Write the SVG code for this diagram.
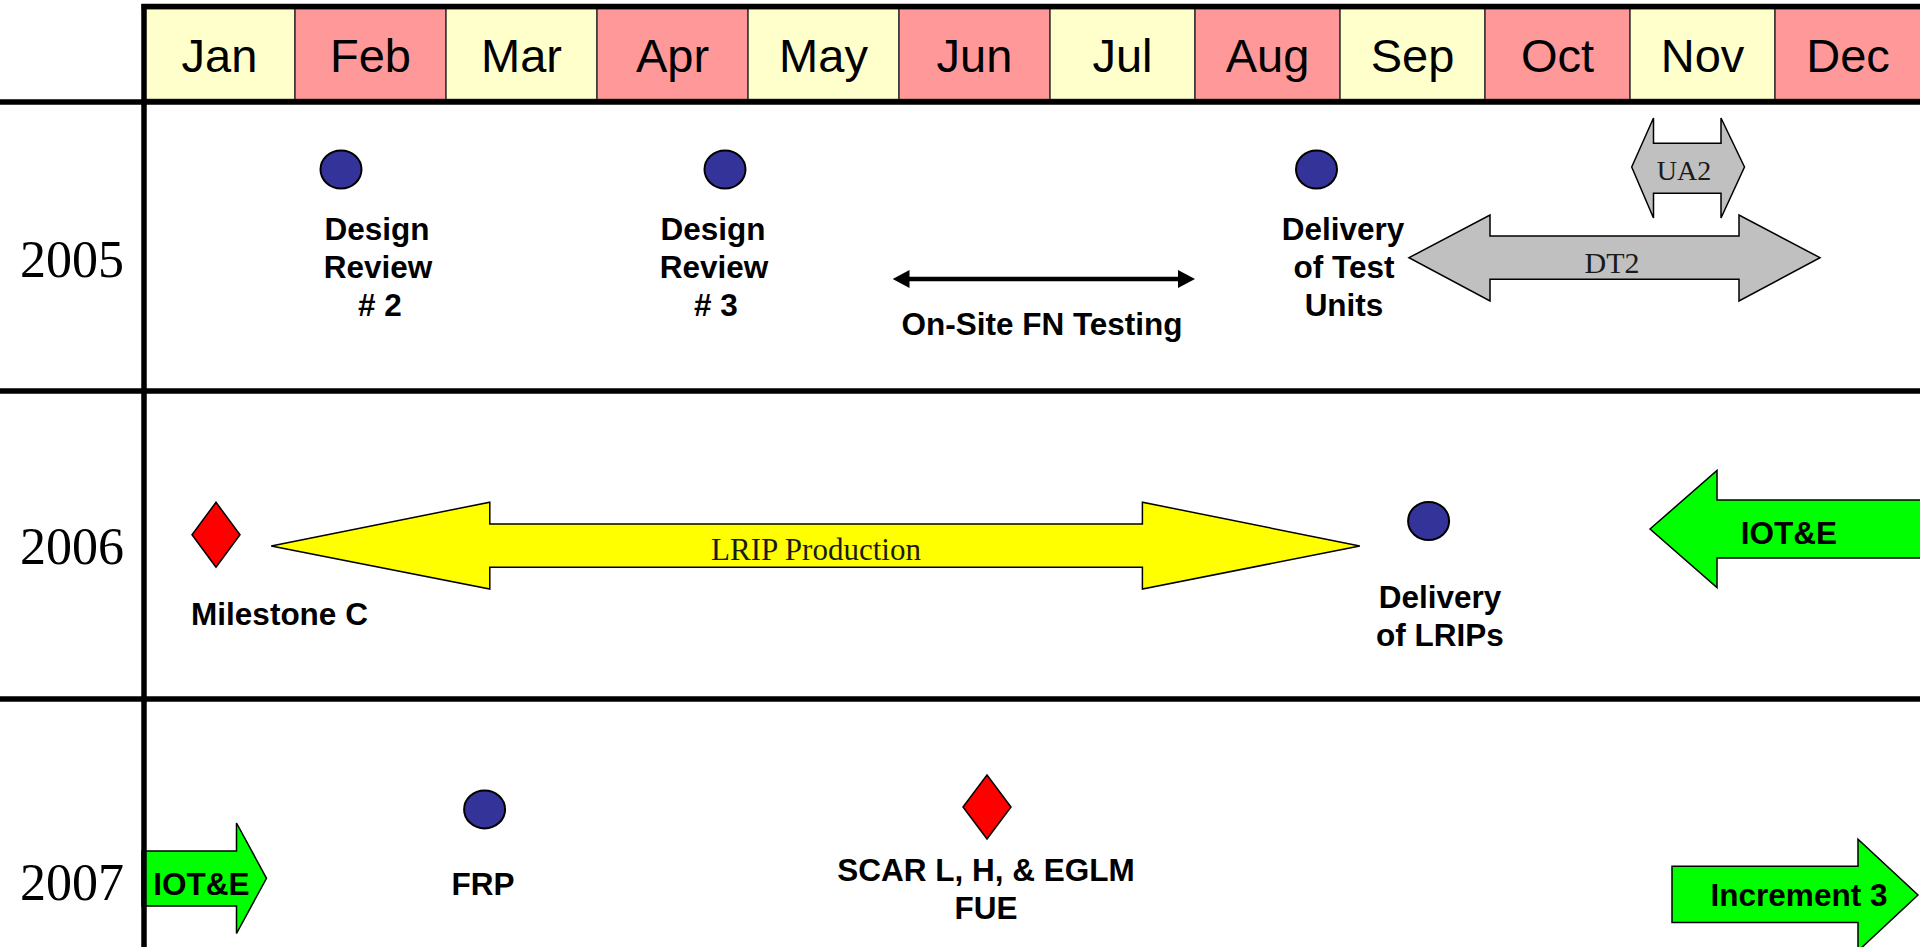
<svg xmlns="http://www.w3.org/2000/svg" width="1920" height="947" viewBox="0 0 1920 947">
<style>
.mon{font-family:"Liberation Sans",Arial,sans-serif;font-size:47px;fill:#000;text-anchor:middle}
.yr{font-family:"Liberation Serif","Times New Roman",serif;font-size:52px;fill:#000;text-anchor:middle}
.lbl{font-family:"Liberation Sans",Arial,sans-serif;font-size:31.5px;font-weight:bold;fill:#000;text-anchor:middle}
.tms{font-family:"Liberation Serif","Times New Roman",serif;fill:#1a1a1a;text-anchor:middle}
.cy{fill:#FFFFCC;stroke:#333;stroke-width:1.5}
.cp{fill:#FF9999;stroke:#333;stroke-width:1.5}
.dot{fill:#333399;stroke:#000;stroke-width:2}
.dia{fill:#FF0000;stroke:#000;stroke-width:1.5}
.grid{stroke:#000;stroke-width:5.5;fill:none}
.grey{fill:#C0C0C0;stroke:#000;stroke-width:1.5}
.yel{fill:#FFFF00;stroke:#000;stroke-width:1.5}
.grn{fill:#00FF00;stroke:#000;stroke-width:1.5}
</style>
<rect x="0" y="0" width="1920" height="947" fill="#fff"/>
<g id="header">
<rect class="cy" x="144" y="8.5" width="151" height="91"/>
<rect class="cp" x="295" y="8.5" width="151" height="91"/>
<rect class="cy" x="446" y="8.5" width="151" height="91"/>
<rect class="cp" x="597" y="8.5" width="151" height="91"/>
<rect class="cy" x="748" y="8.5" width="151" height="91"/>
<rect class="cp" x="899" y="8.5" width="151" height="91"/>
<rect class="cy" x="1050" y="8.5" width="145" height="91"/>
<rect class="cp" x="1195" y="8.5" width="145" height="91"/>
<rect class="cy" x="1340" y="8.5" width="145" height="91"/>
<rect class="cp" x="1485" y="8.5" width="145" height="91"/>
<rect class="cy" x="1630" y="8.5" width="145" height="91"/>
<rect class="cp" x="1775" y="8.5" width="147" height="91"/>
<text class="mon" x="219.5" y="72">Jan</text>
<text class="mon" x="370.5" y="72">Feb</text>
<text class="mon" x="521.5" y="72">Mar</text>
<text class="mon" x="672.5" y="72">Apr</text>
<text class="mon" x="823.5" y="72">May</text>
<text class="mon" x="974.5" y="72">Jun</text>
<text class="mon" x="1122.5" y="72">Jul</text>
<text class="mon" x="1267.5" y="72">Aug</text>
<text class="mon" x="1412.5" y="72">Sep</text>
<text class="mon" x="1557.5" y="72">Oct</text>
<text class="mon" x="1702.5" y="72">Nov</text>
<text class="mon" x="1848" y="72">Dec</text>
</g>
<g id="years">
<text class="yr" x="72" y="277">2005</text>
<text class="yr" x="72" y="564">2006</text>
<text class="yr" x="72" y="900">2007</text>
</g>
<g id="dr2"><ellipse class="dot" cx="341" cy="169.5" rx="20.5" ry="19"/>
<text class="lbl" x="377" y="240">Design</text><text class="lbl" x="378" y="278">Review</text><text class="lbl" x="380" y="316"># 2</text></g>
<g id="dr3"><ellipse class="dot" cx="725" cy="169.5" rx="20.5" ry="19"/>
<text class="lbl" x="713" y="240">Design</text><text class="lbl" x="714" y="278">Review</text><text class="lbl" x="716" y="316"># 3</text></g>
<g id="dtu"><ellipse class="dot" cx="1316.5" cy="169.5" rx="20.5" ry="19"/>
<text class="lbl" x="1343" y="240">Delivery</text><text class="lbl" x="1344" y="278">of Test</text><text class="lbl" x="1344" y="316">Units</text></g>
<g id="onsite"><text class="lbl" x="1042" y="335">On-Site FN Testing</text></g>
<g id="dt2"><polygon class="grey" points="1409,257.7 1490,215 1490,236 1739,236 1739,215 1820,257.7 1739,301 1739,279.3 1490,279.3 1490,301"/>
<text class="tms" x="1612" y="273" font-size="30">DT2</text></g>
<g id="ua2"><polygon class="grey" points="1631.7,167 1653.5,118 1653.5,143.3 1721,143.3 1721,118 1744.5,167 1721,218 1721,193.3 1653.5,193.3 1653.5,218"/>
<text class="tms" x="1684" y="180" font-size="28">UA2</text></g>
<g id="msc"><polygon class="dia" points="216,502.3 240,534.8 216,567.3 192,534.8"/>
<text class="lbl" x="279.5" y="625">Milestone C</text></g>
<g id="lrip"><polygon class="yel" points="271.2,546 489.8,502.2 489.8,523.9 1142.4,523.9 1142.4,502.2 1359.8,546 1142.4,589 1142.4,567.3 489.8,567.3 489.8,589"/>
<text class="tms" x="816" y="560" font-size="31" fill="#000">LRIP Production</text></g>
<g id="dlrip"><ellipse class="dot" cx="1428.6" cy="521" rx="20.5" ry="19"/>
<text class="lbl" x="1440" y="608">Delivery</text><text class="lbl" x="1440" y="646">of LRIPs</text></g>
<g id="iote06"><polygon class="grn" points="1650,529 1717,470.5 1717,500 1923,500 1923,558 1717,558 1717,587.5"/>
<text class="lbl" x="1789" y="544">IOT&amp;E</text></g>
<g id="iote07"><polygon class="grn" points="142,851 236.5,851 236.5,823 266.5,878.3 236.5,933.5 236.5,906 142,906"/>
<text class="lbl" x="201.5" y="895">IOT&amp;E</text></g>
<g id="frp"><ellipse class="dot" cx="484.6" cy="809.4" rx="20.5" ry="19"/>
<text class="lbl" x="483" y="895">FRP</text></g>
<g id="fue"><polygon class="dia" points="987,775 1011,807 987,839 963,807"/>
<text class="lbl" x="986" y="881">SCAR L, H, &amp; EGLM</text><text class="lbl" x="986" y="919">FUE</text></g>
<g id="inc3"><polygon class="grn" points="1672,866.3 1858,866.3 1858,839.2 1918,895 1858,951 1858,922.4 1672,922.4"/>
<text class="lbl" x="1799" y="906">Increment 3</text></g>
<g id="gridlines">
<line class="grid" x1="141.5" y1="6.5" x2="1920" y2="6.5"/>
<line class="grid" x1="0" y1="102" x2="1920" y2="102"/>
<line class="grid" x1="0" y1="391" x2="1920" y2="391"/>
<line class="grid" x1="0" y1="699" x2="1920" y2="699"/>
<line class="grid" x1="144" y1="4" x2="144" y2="947"/>
</g>
<g id="connectors">
<line x1="905" y1="279" x2="1183" y2="279" stroke="#000" stroke-width="4.5"/>
<polygon points="892.7,279 909.5,270 909.5,288" fill="#000"/>
<polygon points="1195,279 1178,270 1178,288" fill="#000"/>
</g>
</svg>
